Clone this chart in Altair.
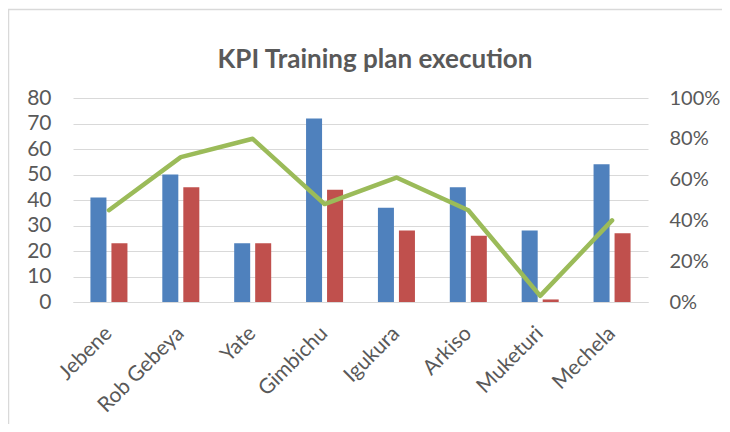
import altair as alt
import pandas as pd

cats = ["Jebene", "Rob Gebeya", "Yate", "Gimbichu", "Igukura", "Arkiso", "Muketuri", "Mechela"]
planned = [41, 50, 23, 72, 37, 45, 28, 54]
executed = [23, 45, 23, 44, 28, 26, 1, 27]
pct = [0.45, 0.71, 0.80, 0.48, 0.61, 0.45, 0.03, 0.40]
series = ["Planned", "Executed"]

bars_df = pd.DataFrame(
    [{"cat": c, "series": series[0], "value": p} for c, p in zip(cats, planned)]
    + [{"cat": c, "series": series[1], "value": e} for c, e in zip(cats, executed)]
)
line_df = pd.DataFrame({"cat": cats, "pct": pct})

FONT = "Lato"
GREY = "#595959"
GRID = "#d9d9d9"

x_enc = alt.X(
    "cat:N",
    sort=cats,
    title=None,
    scale=alt.Scale(paddingInner=0.485, paddingOuter=0.2425),
    axis=alt.Axis(
        labelAngle=-45,
        labelAlign="right",
        labelBaseline="middle",
        labelFont=FONT,
        labelFontSize=21,
        labelColor=GREY,
        labelPadding=28,
        ticks=False,
        domainColor=GRID,
        grid=False,
    ),
)

bars = alt.Chart(bars_df).mark_bar().encode(
    x=x_enc,
    xOffset=alt.XOffset("series:N", sort=series, scale=alt.Scale(paddingInner=0.238, paddingOuter=0)),
    y=alt.Y(
        "value:Q",
        title=None,
        scale=alt.Scale(domain=[0, 80], nice=False),
        axis=alt.Axis(
            values=list(range(0, 81, 10)),
            labelFont=FONT,
            labelFontSize=21,
            labelColor=GREY,
            labelPadding=22,
            ticks=False,
            domain=False,
            grid=True,
            gridColor=GRID,
            gridWidth=1,
        ),
    ),
    color=alt.Color("series:N", sort=series,
                    scale=alt.Scale(domain=series, range=["#4F81BD", "#C0504D"]),
                    legend=None),
)

line = alt.Chart(line_df).mark_line(
    color="#9BBB59", strokeWidth=4.5, strokeJoin="round", strokeCap="round"
).encode(
    x=alt.X("cat:N", sort=cats, bandPosition=0.5),
    y=alt.Y(
        "pct:Q",
        title=None,
        scale=alt.Scale(domain=[0, 1], nice=False),
        axis=alt.Axis(
            orient="right",
            values=[0, 0.2, 0.4, 0.6, 0.8, 1.0],
            format=".0%",
            labelFont=FONT,
            labelFontSize=20,
            labelColor=GREY,
            labelPadding=21,
            ticks=False,
            domain=False,
            grid=False,
        ),
    ),
)

title = alt.Chart(alt.Data(values=[{"t": "KPI Training plan execution"}])).mark_text(
    font=FONT, fontSize=26, fontWeight="bold", color=GREY, align="center", baseline="alphabetic"
).encode(text="t:N", x=alt.value(302), y=alt.value(-30))

border = alt.Chart(alt.Data(values=[{"a": 1}])).mark_rect(
    fill=None, stroke=GRID, strokeWidth=1.5
).encode(x=alt.value(-64.5), x2=alt.value(700), y=alt.value(-88.5), y2=alt.value(400))

chart = (
    alt.layer(bars, line, title, border)
    .resolve_scale(y="independent")
    .properties(
        width=575,
        height=204,
        autosize=alt.AutoSizeParams(type="none"),
        padding={"left": 65, "top": 90, "right": 74, "bottom": 122},
    )
    .configure_view(stroke=None)
)

chart.save("out.html", embed_options={"renderer": "svg", "actions": False})
